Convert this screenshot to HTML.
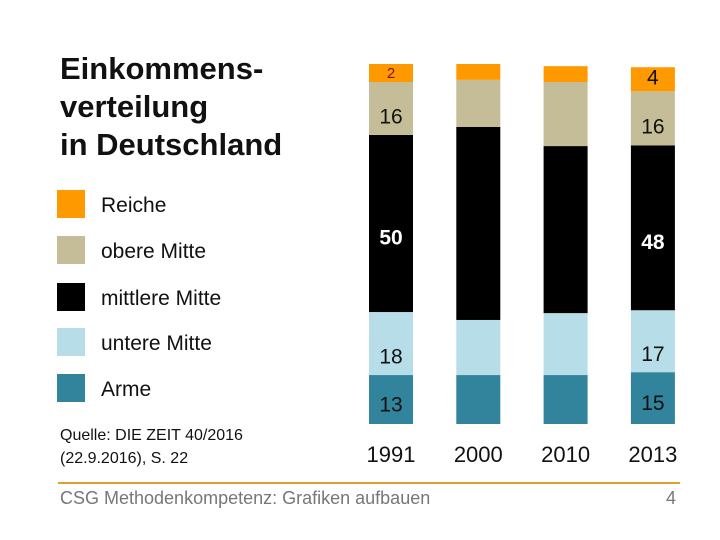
<!DOCTYPE html>
<html><head><meta charset="utf-8"><style>
body{margin:0;width:720px;height:540px;background:#fff;font-family:"Liberation Sans",Arial,sans-serif;position:relative;overflow:hidden}
.a{position:absolute;white-space:nowrap}
</style></head><body>
<div class="a" style="left:60px;top:50px;font-size:31px;line-height:38px;color:#111;font-weight:bold">Einkommens-<br>verteilung<br>in Deutschland</div>
<div id="legend"></div>
<div class="a" style="left:60px;top:424px;font-size:16px;line-height:23px;color:#111">Quelle: DIE ZEIT 40/2016<br>(22.9.2016), S. 22</div>
<div class="a" style="left:58px;top:482px;width:622px;height:2px;background:#e0a030"></div>
<div class="a" style="left:60px;top:488px;font-size:18px;color:#777">CSG Methodenkompetenz: Grafiken aufbauen</div>
<div class="a" style="left:666px;top:488px;font-size:18px;color:#777">4</div>
<svg id="chart" width="720" height="540" style="position:absolute;left:0;top:0"></svg>
<script>
const categories=["1991","2000","2010","2013"];
const seriesNames=["Arme","untere Mitte","mittlere Mitte","obere Mitte","Reiche"];
const colors=["#31849b","#b7dde8","#000000","#c4bd97","#ff9900"];
const arme=[13.6,13.6,13.6,14.4];
const untereMitte=[17.5,15.3,17.2,17.2];
const mittlereMitte=[49.2,53.6,46.4,45.8];
const obereMitte=[14.7,13.1,17.8,15.0];
const reiche=[5.0,4.4,4.4,6.7];
const printed1991=["13","18","50","16","2"];
const printed2013=["15","17","48","16","4"];
const series=[arme,untereMitte,mittlereMitte,obereMitte,reiche];
const NS="http://www.w3.org/2000/svg";
const svg=document.getElementById('chart');
const y0=424,scale=3.6;
const labOff=[12,20,21,15,5];
function yPos(v){return y0-v*scale;}
function xPos(i){return 369+i*87.3;}
const bw=44;
categories.forEach((c,i)=>{
  let cum=0;
  series.forEach((s,k)=>{
    const r=document.createElementNS(NS,'rect');
    r.setAttribute('x',xPos(i));r.setAttribute('width',bw);
    r.setAttribute('y',yPos(cum+s[i]));r.setAttribute('height',s[i]*scale);
    r.setAttribute('fill',colors[k]);
    
    
    svg.appendChild(r);
    let lab=null;
    if(i===0)lab=printed1991[k];
    if(i===3)lab=printed2013[k];
    if(lab){
      const t=document.createElementNS(NS,'text');
      const cy=(yPos(cum)+yPos(cum+s[i]))/2+labOff[k];
      t.setAttribute('x',xPos(i)+bw/2);t.setAttribute('y',cy);
      t.setAttribute('text-anchor','middle');
      t.setAttribute('font-size',k===4&&i===0?'15':'21');
      t.setAttribute('font-weight',k===2?'bold':'normal');
      t.setAttribute('fill',k===2?'#fff':(k===4&&i===0?'#7a1a00':'#111'));
      t.textContent=lab;
      
      
      svg.appendChild(t);
    }
    cum+=s[i];
  });
  const t=document.createElementNS(NS,'text');
  t.setAttribute('x',xPos(i)+bw/2);t.setAttribute('y',462);
  t.setAttribute('text-anchor','middle');t.setAttribute('font-size','22');t.setAttribute('fill','#111');
  t.textContent=c;
  
  
  svg.appendChild(t);
});
const lg=document.getElementById('legend');
const legOrder=[4,3,2,1,0];const legY=[190,236,283,328,374];
legOrder.forEach((k,j)=>{
  const sq=document.createElement('div');sq.className='a';
  sq.style.cssText=`left:57px;top:${legY[j]}px;width:28px;height:28px;background:${colors[k]}`;
  
  
  lg.appendChild(sq);
  const tx=document.createElement('div');tx.className='a';
  tx.style.cssText=`left:101px;top:${legY[j]+3}px;font-size:21px;line-height:26px;color:#111`;
  tx.textContent=seriesNames[k];
  
  
  lg.appendChild(tx);
});
</script>
</body></html>
